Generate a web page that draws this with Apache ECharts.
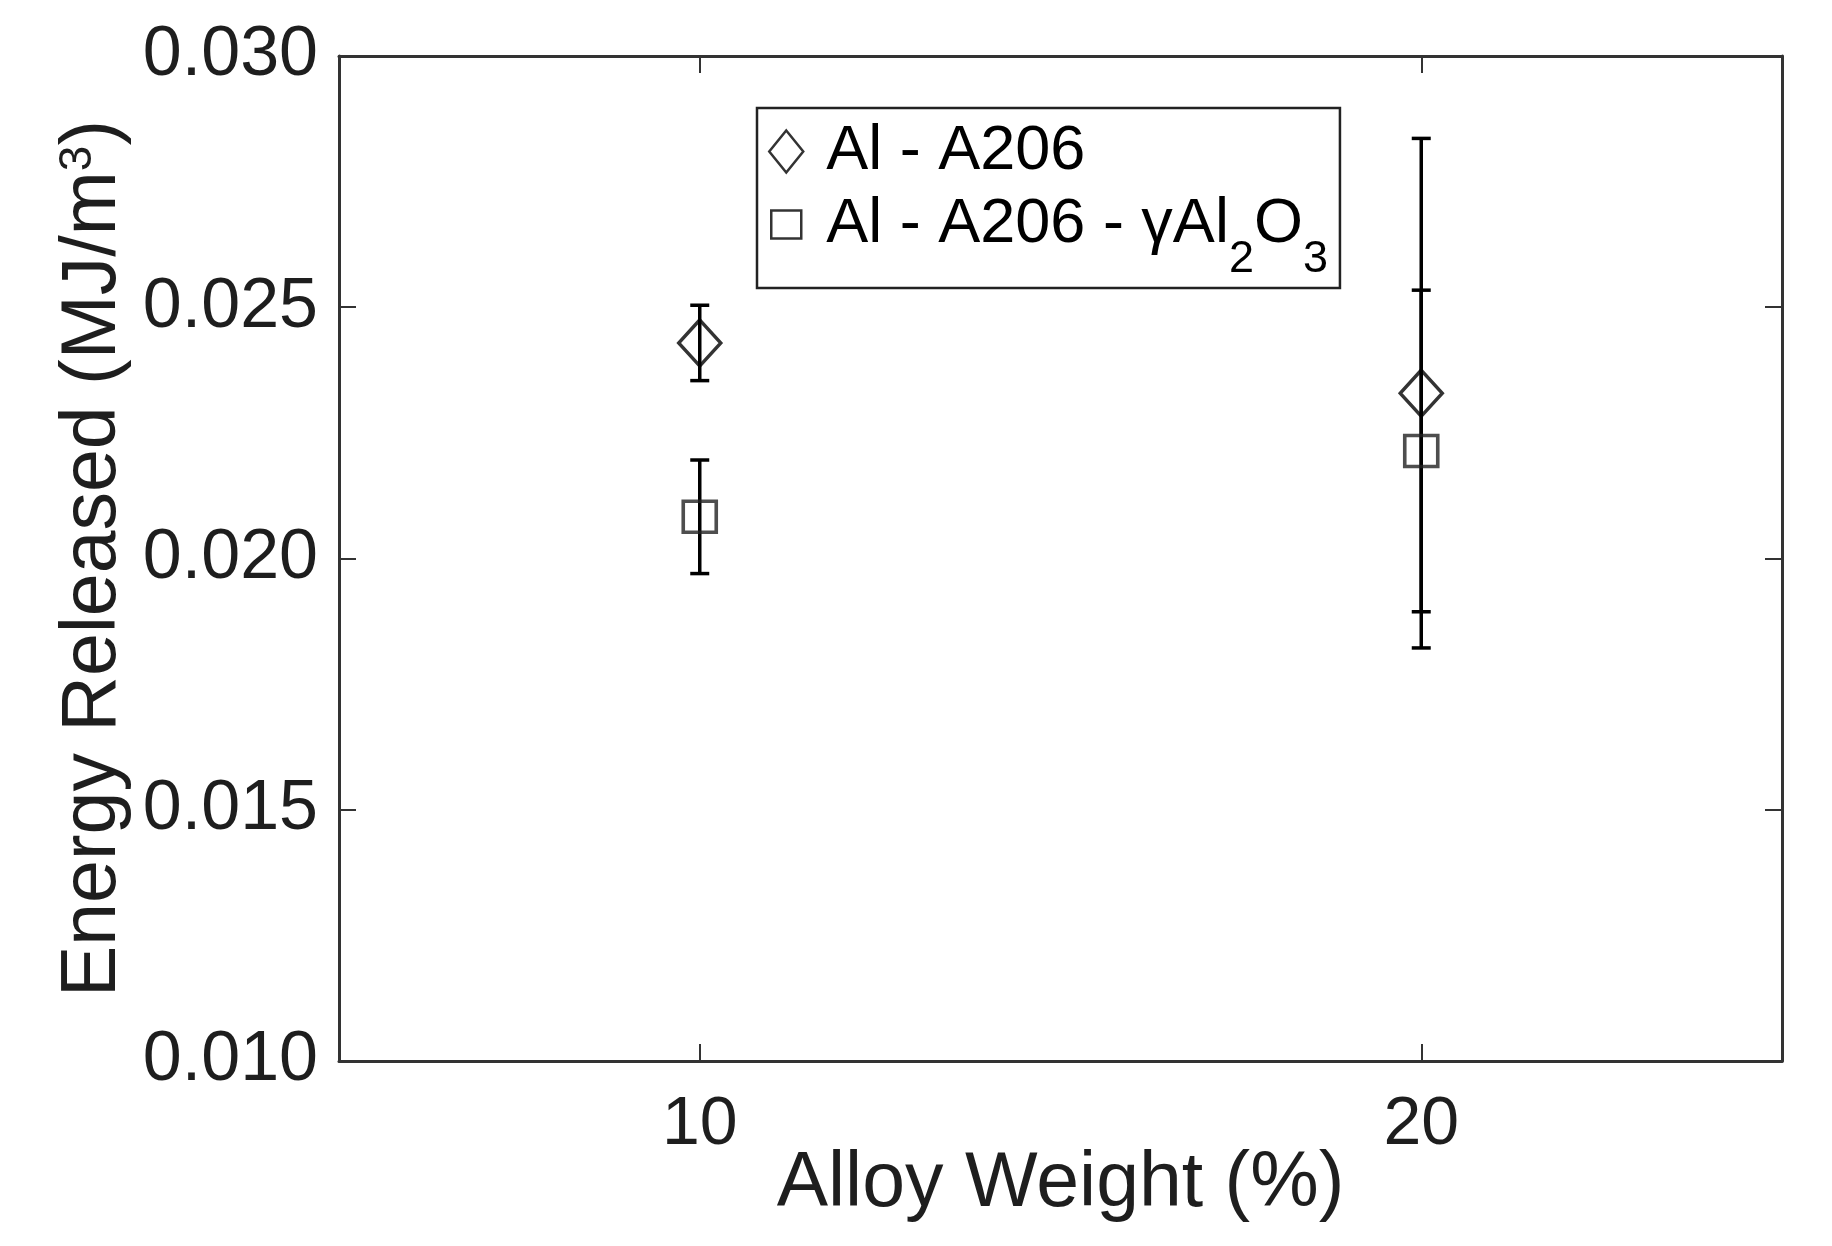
<!DOCTYPE html>
<html>
<head>
<meta charset="utf-8">
<script src="https://cdn.jsdelivr.net/npm/echarts@6/dist/echarts.min.js"></script>
<style>
  html, body { margin: 0; padding: 0; background: #fff; }
  #chart { width: 1832px; height: 1246px; }
</style>
</head>
<body>
<div id="chart"></div>
<script>
// alloy weight (%)
const alloyWeight = [10, 20];
// Al - A206
const a206Mean = [0.02429, 0.02329];
const a206Err = [0.00075, 0.00507];
// Al - A206 - gamma Al2O3
const oxideMean = [0.02083, 0.02214];
const oxideErr = [0.00113, 0.0032];

const xTicks = [10, 20];
const seriesNames = ['Al - A206', 'Al - A206 - γAl2O3'];

const FONT = '"Liberation Sans", Arial, Helvetica, sans-serif';
const AXIS_COLOR = '#333';
const TEXT_COLOR = '#1e1e1e';

const chart = echarts.init(document.getElementById('chart'));

const errRows = (mean, err) => alloyWeight.map((x, i) => [x, mean[i] - err[i], mean[i] + err[i]]);

// vertical line with caps, drawn through the axis scales
const renderErr = (params, api) => {
  const x = api.value(0);
  const top = api.coord([x, api.value(2)]);
  const bot = api.coord([x, api.value(1)]);
  const half = 9.5;
  const style = { stroke: '#000', lineWidth: 3.5 };
  return {
    type: 'group',
    children: [
      { type: 'line', shape: { x1: top[0], y1: top[1], x2: bot[0], y2: bot[1] }, style },
      { type: 'line', shape: { x1: top[0] - half, y1: top[1], x2: top[0] + half, y2: top[1] }, style },
      { type: 'line', shape: { x1: bot[0] - half, y1: bot[1], x2: bot[0] + half, y2: bot[1] }, style },
    ],
  };
};

const frameX = (pos, showLabel) => ({
  type: 'value',
  position: pos,
  min: 5,
  max: 25,
  axisLine: { show: true, onZero: false, lineStyle: { color: AXIS_COLOR, width: 3 } },
  axisTick: { show: true, inside: true, length: 17, customValues: xTicks, lineStyle: { color: AXIS_COLOR, width: 2 } },
  axisLabel: {
    show: showLabel,
    customValues: xTicks,
    margin: 30,
    fontSize: 68,
    fontFamily: FONT,
    color: TEXT_COLOR,
  },
  splitLine: { show: false },
});

const frameY = (pos, showLabel) => ({
  type: 'value',
  position: pos,
  min: 0.010,
  max: 0.030,
  interval: 0.005,
  axisLine: { show: true, onZero: false, lineStyle: { color: AXIS_COLOR, width: 3 } },
  axisTick: { show: true, inside: true, length: 17, lineStyle: { color: AXIS_COLOR, width: 2 } },
  axisLabel: {
    show: showLabel,
    margin: 21,
    fontSize: 70,
    fontFamily: FONT,
    color: TEXT_COLOR,
    formatter: (v) => v.toFixed(3),
  },
  splitLine: { show: false },
});

const xMain = frameX('bottom', true);
xMain.name = 'Alloy Weight (%)';
xMain.nameLocation = 'middle';
xMain.nameGap = 85;
xMain.nameMoveOverlap = false;
xMain.nameTextStyle = { fontSize: 77, fontFamily: FONT, color: TEXT_COLOR };

const yMain = frameY('left', true);
yMain.name = 'Energy Released (MJ/m{sup|3})';
yMain.nameLocation = 'middle';
yMain.nameGap = 206;
yMain.nameTextStyle = {
  fontSize: 77,
  fontFamily: FONT,
  color: TEXT_COLOR,
  rich: {
    sup: { fontSize: 46, fontFamily: FONT, color: TEXT_COLOR, verticalAlign: 'top', padding: [0, 0, 30, 0] },
  },
};

const option = {
  backgroundColor: '#fff',
  animation: false,
  grid: { left: 339, right: 50, top: 56, bottom: 185 },
  xAxis: [xMain, frameX('top', false)],
  yAxis: [yMain, frameY('right', false)],
  legend: {
    left: 757,
    top: 108,
    orient: 'vertical',
    selectedMode: false,
    backgroundColor: '#fff',
    borderColor: '#222',
    borderWidth: 2.5,
    padding: [12, 12, 6, 11],
    itemGap: 10,
    itemWidth: 34,
    itemHeight: 42,
    data: [
      {
        name: seriesNames[0],
        icon: 'diamond',
        itemStyle: { color: 'rgba(0,0,0,0)', borderColor: '#000', borderWidth: 2.5 },
      },
      {
        name: seriesNames[1],
        icon: 'path://M0,0M34,42M2,7L32,7L32,35L2,35Z',
        itemStyle: { color: 'rgba(0,0,0,0)', borderColor: '#000', borderWidth: 2.5 },
      },
    ],
    formatter: (name) => name === seriesNames[1]
      ? '{m|Al - A206 - γAl}{s|2}{m|O}{s|3}'
      : '{m|' + name + '}',
    textStyle: {
      fontSize: 63,
      fontFamily: FONT,
      color: '#000',
      rich: {
        m: { fontSize: 63, fontFamily: FONT, color: '#000', lineHeight: 63, verticalAlign: 'top', padding: [0, 0, 0, 0] },
        s: { fontSize: 45, fontFamily: FONT, color: '#000', lineHeight: 45, verticalAlign: 'top', padding: [44, 0, 0, 0] },
      },
      padding: [0, 0, 0, 18],
    },
  },
  series: [
    {
      type: 'custom',
      renderItem: renderErr,
      data: errRows(a206Mean, a206Err),
      z: 1,
      silent: true,
    },
    {
      type: 'custom',
      renderItem: renderErr,
      data: errRows(oxideMean, oxideErr),
      z: 1,
      silent: true,
    },
    {
      name: seriesNames[0],
      type: 'scatter',
      symbol: 'diamond',
      symbolSize: [42, 46],
      itemStyle: { color: 'rgba(0,0,0,0)', borderColor: '#000', borderWidth: 3.5 },
      data: alloyWeight.map((x, i) => [x, a206Mean[i]]),
      z: 3,
    },
    {
      name: seriesNames[1],
      type: 'scatter',
      symbol: 'rect',
      symbolSize: [33, 31],
      itemStyle: { color: 'rgba(0,0,0,0)', borderColor: '#222', borderWidth: 3.5 },
      data: alloyWeight.map((x, i) => [x, oxideMean[i]]),
      z: 3,
    },
  ],
};

chart.setOption(option);
</script>
</body>
</html>
